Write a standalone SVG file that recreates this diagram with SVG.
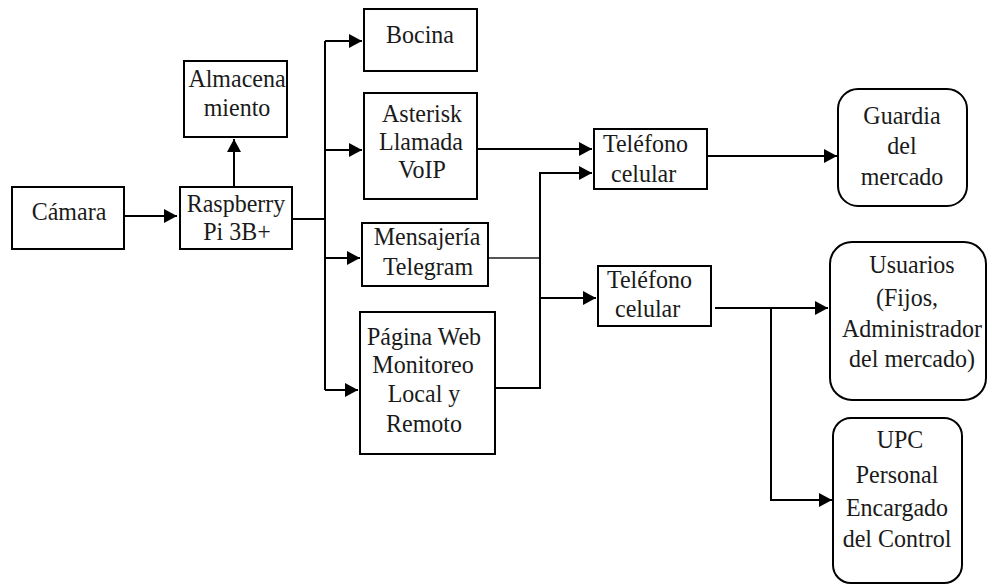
<svg xmlns="http://www.w3.org/2000/svg" width="987" height="585" viewBox="0 0 987 585">
  <style>
    .box { fill: #ffffff; stroke: #000000; stroke-width: 2; }
    .lbl { font-family: 'Liberation Serif', 'Times New Roman', Times, 'DejaVu Serif', serif; font-size: 24px; fill: #1a1a1a; text-anchor: middle; }
    .lft { text-anchor: start; }
    .wire { fill: none; stroke: #000000; stroke-width: 2; }
    .soft { stroke: #555555; }
    .arr { marker-end: url(#tip); }
  </style>
  <defs>
    <marker id="tip" markerUnits="userSpaceOnUse" markerWidth="14" markerHeight="14" refX="13" refY="7" orient="auto">
      <path d="M0,0 L13,7 L0,14 z" fill="#000000"/>
    </marker>
  </defs>
  <rect width="987" height="585" fill="#ffffff"/>

  <g id="connectors">
    <path class="wire arr" d="M124,216 H177"/>
    <path class="wire arr" d="M234,187 V139"/>
    <path class="wire" d="M292,219 H325"/>
    <path class="wire" d="M325,41 V390"/>
    <path class="wire arr" d="M325,41 H362"/>
    <path class="wire arr" d="M325,150 H362"/>
    <path class="wire arr" d="M325,258 H360"/>
    <path class="wire arr" d="M325,390 H358"/>
    <path class="wire arr" d="M477,149 H592"/>
    <path class="wire soft" d="M488,258 H540"/>
    <path class="wire arr" d="M495,388 H540 V173 H592"/>
    <path class="wire arr" d="M540,298 H596"/>
    <path class="wire arr" d="M707,156 H837"/>
    <path class="wire arr" d="M715,308 H828"/>
    <path class="wire arr" d="M771,308 V500 H832"/>
  </g>

  <!-- labels use a slight vertical stretch: translate(x,baseline) scale(1,1.05) -->
  <g id="camara">
    <rect class="box" x="12" y="187" width="112" height="62"/>
    <text class="lbl" transform="translate(69,220) scale(1,1.05)">Cámara</text>
  </g>

  <g id="raspberry">
    <rect class="box" x="180" y="187" width="112" height="62"/>
    <text class="lbl" transform="translate(236,212) scale(1,1.05)">Raspberry</text>
    <text class="lbl" transform="translate(237,240) scale(1,1.05)">Pi 3B+</text>
  </g>

  <g id="almacenamiento">
    <rect class="box" x="184" y="61" width="103" height="76"/>
    <text class="lbl" transform="translate(237,87) scale(1,1.05)">Almacena</text>
    <text class="lbl" transform="translate(237,116) scale(1,1.05)">miento</text>
  </g>

  <g id="bocina">
    <rect class="box" x="364" y="9" width="113" height="62"/>
    <text class="lbl" transform="translate(420,43) scale(1,1.05)">Bocina</text>
  </g>

  <g id="asterisk">
    <rect class="box" x="364" y="93" width="113" height="106"/>
    <text class="lbl" transform="translate(422,122) scale(1,1.05)">Asterisk</text>
    <text class="lbl" transform="translate(421,150) scale(1,1.05)">Llamada</text>
    <text class="lbl" transform="translate(422,178) scale(1,1.05)">VoIP</text>
  </g>

  <g id="telegram">
    <rect class="box" x="362" y="223" width="126" height="63"/>
    <text class="lbl" transform="translate(427,245) scale(1,1.05)">Mensajería</text>
    <text class="lbl" transform="translate(428,275) scale(1,1.05)">Telegram</text>
  </g>

  <g id="pagina-web">
    <rect class="box" x="360" y="312" width="135" height="142"/>
    <text class="lbl" transform="translate(424,345) scale(1,1.05)">Página Web</text>
    <text class="lbl" transform="translate(423,373) scale(1,1.05)">Monitoreo</text>
    <text class="lbl" transform="translate(424,402) scale(1,1.05)">Local y</text>
    <text class="lbl" transform="translate(424,432) scale(1,1.05)">Remoto</text>
  </g>

  <g id="telefono-1">
    <rect class="box" x="594" y="129" width="113" height="60"/>
    <text class="lbl lft" transform="translate(603,152) scale(1,1.05)">Teléfono</text>
    <text class="lbl lft" transform="translate(611,182) scale(1,1.05)">celular</text>
  </g>

  <g id="telefono-2">
    <rect class="box" x="598" y="266" width="113" height="60"/>
    <text class="lbl lft" transform="translate(607,288) scale(1,1.05)">Teléfono</text>
    <text class="lbl lft" transform="translate(615,317) scale(1,1.05)">celular</text>
  </g>

  <g id="guardia">
    <rect class="box" x="838" y="89" width="129" height="117" rx="20" ry="20"/>
    <text class="lbl" transform="translate(902,124) scale(1,1.05)">Guardia</text>
    <text class="lbl" transform="translate(902,154) scale(1,1.05)">del</text>
    <text class="lbl" transform="translate(902,185) scale(1,1.05)">mercado</text>
  </g>

  <g id="usuarios">
    <rect class="box" x="830" y="242" width="156" height="158" rx="22" ry="22"/>
    <text class="lbl" transform="translate(912,273) scale(1,1.05)">Usuarios</text>
    <text class="lbl" transform="translate(907,306) scale(1,1.05)">(Fijos,</text>
    <text class="lbl" transform="translate(912,337) scale(1,1.05)">Administrador</text>
    <text class="lbl" transform="translate(912,367) scale(1,1.05)">del mercado)</text>
  </g>

  <g id="upc">
    <rect class="box" x="833" y="418" width="129" height="165" rx="18" ry="18"/>
    <text class="lbl" transform="translate(900,448) scale(1,1.05)">UPC</text>
    <text class="lbl" transform="translate(897,483) scale(1,1.05)">Personal</text>
    <text class="lbl" transform="translate(897,516) scale(1,1.05)">Encargado</text>
    <text class="lbl" transform="translate(897,547) scale(1,1.05)">del Control</text>
  </g>
</svg>
